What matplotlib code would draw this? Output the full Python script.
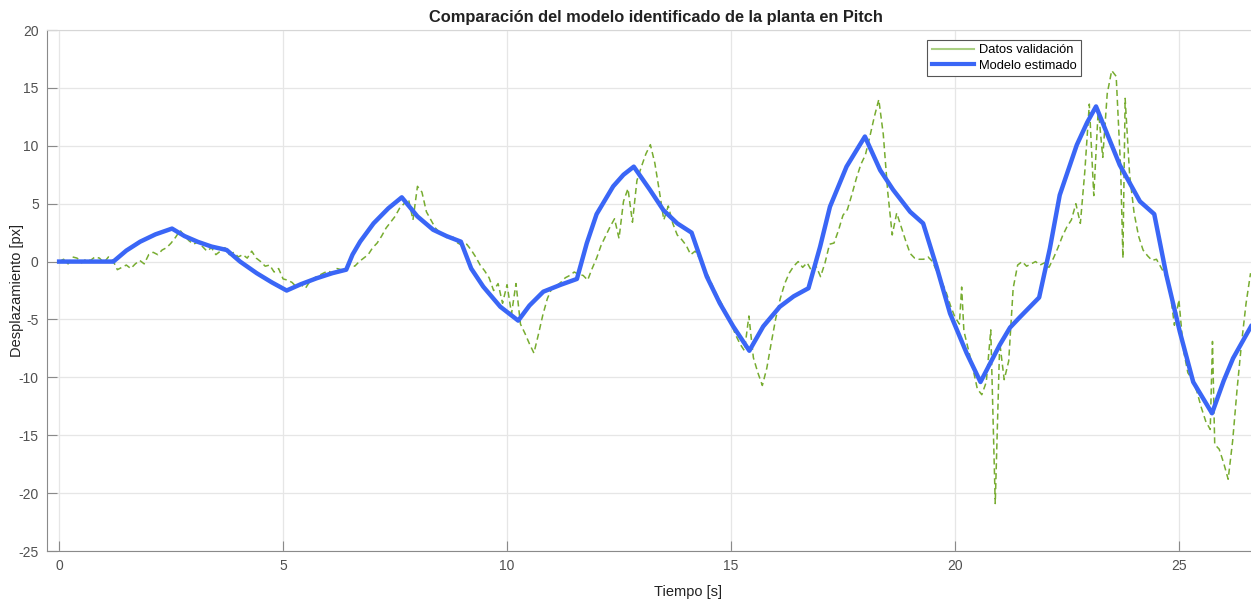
import matplotlib.pyplot as plt
from matplotlib.lines import Line2D

plt.rcParams['font.family'] = ['Liberation Sans', 'DejaVu Sans']
plt.rcParams['axes.unicode_minus'] = False

# Datos de validación (pitch medido)
t_val = [0.0, 0.1, 0.2, 0.3, 0.4, 0.5, 0.6, 0.7, 0.8, 0.9,
         1.0, 1.1, 1.2, 1.3, 1.4, 1.5, 1.6, 1.7, 1.8, 1.9,
         2.0, 2.1, 2.2, 2.3, 2.4, 2.5, 2.6, 2.7, 2.8, 2.9,
         3.0, 3.1, 3.2, 3.3, 3.4, 3.5, 3.6, 3.7, 3.8, 3.9,
         4.0, 4.1, 4.2, 4.3, 4.4, 4.5, 4.6, 4.7, 4.8, 4.9,
         5.0, 5.1, 5.2, 5.3, 5.4, 5.5, 5.6, 5.7, 5.8, 5.9,
         6.0, 6.1, 6.2, 6.3, 6.4, 6.5, 6.6, 6.7, 6.8, 6.9,
         7.0, 7.1, 7.2, 7.3, 7.4, 7.5, 7.6, 7.7, 7.8, 7.9,
         8.0, 8.1, 8.2, 8.3, 8.4, 8.5, 8.6, 8.7, 8.8, 8.9,
         9.0, 9.1, 9.2, 9.3, 9.4, 9.5, 9.6, 9.7, 9.8, 9.9,
         10.0, 10.1, 10.2, 10.3, 10.4, 10.5, 10.6, 10.7, 10.8, 10.9,
         11.0, 11.1, 11.2, 11.3, 11.4, 11.5, 11.6, 11.7, 11.8, 11.9,
         12.0, 12.1, 12.2, 12.3, 12.4, 12.5, 12.6, 12.7, 12.8, 12.9,
         13.0, 13.1, 13.2, 13.3, 13.4, 13.5, 13.6, 13.7, 13.8, 13.9,
         14.0, 14.1, 14.2, 14.3, 14.4, 14.5, 14.6, 14.7, 14.8, 14.9,
         15.0, 15.1, 15.2, 15.3, 15.4, 15.5, 15.6, 15.7, 15.8, 15.9,
         16.0, 16.1, 16.2, 16.3, 16.4, 16.5, 16.6, 16.7, 16.8, 16.9,
         17.0, 17.1, 17.2, 17.3, 17.4, 17.5, 17.6, 17.7, 17.8, 17.9,
         18.0, 18.1, 18.2, 18.3, 18.4, 18.5, 18.6, 18.7, 18.8, 18.9,
         19.0, 19.1, 19.2, 19.3, 19.4, 19.5, 19.6, 19.7, 19.8, 19.9,
         20.0, 20.1, 20.15, 20.2, 20.3, 20.4, 20.5, 20.6, 20.7, 20.8, 20.9,
         21.0, 21.1, 21.2, 21.3, 21.4, 21.5, 21.6, 21.7, 21.8, 21.9,
         22.0, 22.1, 22.2, 22.3, 22.4, 22.5, 22.6, 22.7, 22.8, 22.9,
         23.0, 23.1, 23.2, 23.3, 23.4, 23.5, 23.6, 23.7, 23.75, 23.8, 23.9,
         24.0, 24.1, 24.2, 24.3, 24.4, 24.5, 24.6, 24.7, 24.8, 24.9,
         25.0, 25.1, 25.2, 25.3, 25.4, 25.5, 25.6, 25.7, 25.75, 25.8, 25.9,
         26.0, 26.1, 26.2, 26.3, 26.4, 26.5, 26.6]
y_val = [0.0, 0.2, -0.2, 0.4, 0.3, -0.1, 0.2, 0.1, 0.4, 0.3,
         -0.1, 0.4, 0.1, -0.7, -0.5, -0.3, -0.6, -0.2, 0.1, -0.2,
         0.6, 0.8, 0.6, 1.0, 1.2, 1.6, 2.1, 2.7, 2.2, 1.8,
         1.5, 1.7, 1.3, 0.9, 1.2, 0.6, 0.9, 1.2, 0.6, 0.8,
         0.4, 0.6, 0.3, 0.9, 0.3, 0.0, -0.4, -0.3, -0.9, -0.6,
         -1.5, -1.6, -1.8, -2.2, -2.0, -2.3, -1.7, -1.4, -1.2, -1.0,
         -0.8, -1.0, -0.6, -0.7, -0.6, -0.2, -0.4, 0.0, 0.3, 0.6,
         1.2, 1.6, 2.2, 2.9, 3.4, 3.9, 4.6, 5.0, 5.4, 3.6,
         6.5, 6.0, 4.3, 3.6, 2.9, 2.5, 2.3, 1.9, 2.1, 1.6,
         1.4, 1.5, 1.0, 0.4, -0.3, -0.8, -1.4, -2.5, -1.9, -3.6,
         -2.0, -4.5, -1.9, -5.4, -6.2, -7.1, -7.9, -6.3, -4.6, -3.2,
         -2.3, -2.1, -1.8, -1.4, -1.2, -0.9, -1.1, -1.2, -1.6, -0.6,
         0.3, 1.4, 2.2, 3.0, 3.7, 2.0, 5.2, 6.3, 3.4, 7.0,
         8.2, 9.3, 10.1, 8.5, 6.1, 3.6, 4.8, 3.3, 2.3, 1.9,
         1.4, 0.6, 0.9, 0.3, -0.6, -1.3, -2.2, -3.0, -3.7, -4.5,
         -5.3, -6.3, -7.1, -7.7, -4.7, -8.3, -9.6, -10.7, -9.2, -7.0,
         -4.9, -3.2, -1.9, -1.0, -0.4, 0.0, -0.5, -0.1, -0.8, -0.4,
         -1.3, -0.1, 1.5, 1.6, 2.7, 4.0, 4.5, 5.8, 7.2, 8.4,
         9.2, 10.8, 12.5, 14.0, 11.0, 6.0, 2.3, 4.2, 3.0, 1.8,
         0.7, 0.3, 0.2, 0.2, 0.4, 0.0, -0.9, -1.7, -2.6, -3.8,
         -4.8, -5.4, -2.2, -6.0, -7.6, -9.2, -11.0, -11.5, -10.4, -5.9, -20.9,
         -7.0, -10.2, -8.6, -2.3, -0.3, 0.0, -0.4, -0.2, 0.0, -0.3,
         -0.1, -0.5, 0.3, 1.2, 2.2, 3.0, 3.6, 5.0, 3.3, 7.8,
         13.6, 5.7, 13.2, 9.0, 14.5, 16.5, 16.0, 8.0, 0.3, 14.1, 7.5,
         4.2, 2.2, 1.0, 0.5, 0.1, 0.2, -0.5, -1.2, -2.5, -5.5,
         -3.3, -7.6, -9.6, -10.2, -11.2, -12.6, -13.8, -14.5, -6.9, -15.8, -16.2,
         -17.4, -18.8, -15.5, -11.0, -7.0, -3.6, -1.0]

# Salida del modelo estimado
t_mod = [0.0, 1.21, 1.5, 1.81, 2.15, 2.52, 2.8, 3.1, 3.4, 3.74,
         4.04, 4.41, 4.75, 5.08, 5.4, 5.75, 6.1, 6.41, 6.55, 6.72, 7.02,
         7.35, 7.65, 8.0, 8.35, 8.65, 8.97, 9.2, 9.47, 9.85, 10.25,
         10.5, 10.81, 11.2, 11.56, 11.78, 12.0, 12.37, 12.6, 12.83, 13.19, 13.49,
         13.8, 14.12, 14.46, 14.75, 15.05, 15.41, 15.72, 16.09, 16.4, 16.73,
         16.99, 17.21, 17.58, 17.8, 17.99, 18.33, 18.62, 19.0, 19.29, 19.59, 19.89,
         20.26, 20.57, 21.0, 21.23, 21.45, 21.88, 22.12, 22.34, 22.72, 22.95, 23.15,
         23.68, 24.13, 24.45, 24.72, 25.02, 25.32, 25.74, 26.0, 26.21, 26.61]
y_mod = [0.0, 0.0, 0.95, 1.72, 2.35, 2.85, 2.2, 1.7, 1.3, 1.0,
         0.0, -1.0, -1.8, -2.5, -1.95, -1.44, -1.0, -0.7, 0.6, 1.72, 3.3,
         4.6, 5.55, 3.9, 2.75, 2.2, 1.72, -0.6, -2.17, -3.9, -5.1,
         -3.8, -2.6, -2.0, -1.5, 1.58, 4.1, 6.5, 7.5, 8.2, 6.2, 4.45,
         3.3, 2.5, -1.3, -3.6, -5.6, -7.7, -5.6, -3.9, -3.0, -2.3,
         1.29, 4.74, 8.2, 9.6, 10.8, 7.9, 6.2, 4.3, 3.3, -0.44, -4.47,
         -7.9, -10.4, -7.2, -5.7, -4.8, -3.1, 1.15, 5.75, 10.07, 12.0, 13.4,
         8.34, 5.2, 4.1, -1.16, -6.05, -10.4, -13.1, -10.3, -8.35, -5.6]

fig = plt.figure(figsize=(12.51, 6.03), dpi=100)
ax = fig.add_axes([0.0376, 0.0862, 0.9624, 0.864])

ax.plot(t_val, y_val, linestyle='--', color='#77ac30', lw=1.1, dashes=(4, 2.5))
ax.plot(t_mod, y_mod, color='#3a66f6', lw=3.2)

ax.set_xlim(-0.27, 26.61)
ax.set_ylim(-25, 20)
ax.set_xticks(range(0, 26, 5))
ax.set_yticks(range(-25, 21, 5))
ax.grid(True, color='#e6e6e6', lw=0.9)
ax.set_axisbelow(True)

for side in ['left', 'bottom']:
    ax.spines[side].set_color('#8a8a8a')
ax.spines['top'].set_color('#d6d6d6')
ax.spines['right'].set_visible(False)
ax.tick_params(direction='in', length=7, color='#8a8a8a', labelcolor='#505050',
               labelsize=10, pad=6, right=False, top=False)

ax.set_title('Comparación del modelo identificado de la planta en Pitch',
             fontsize=11.8, fontweight='bold', color='#222222', pad=6, x=0.506)
ax.set_xlabel('Tiempo [s]', fontsize=10.5, color='#222222')
ax.set_ylabel('Desplazamiento [px]', fontsize=10.5, color='#222222')
ax.xaxis.set_label_coords(0.532, -0.065)
ax.yaxis.set_label_coords(-0.019, 0.5)

handles = [Line2D([], [], color='#a9cf82', lw=1.5),
           Line2D([], [], color='#3a66f6', lw=3)]
leg = ax.legend(handles, ['Datos validación', 'Modelo estimado'],
                loc='upper left', bbox_to_anchor=(0.731, 0.981), fontsize=9.3,
                fancybox=False, framealpha=1, edgecolor='#555555',
                borderpad=0.35, handlelength=3.3, labelspacing=0.25,
                handletextpad=0.35, borderaxespad=0)
leg.get_frame().set_linewidth(0.8)

fig.savefig('out.png', dpi=100)
